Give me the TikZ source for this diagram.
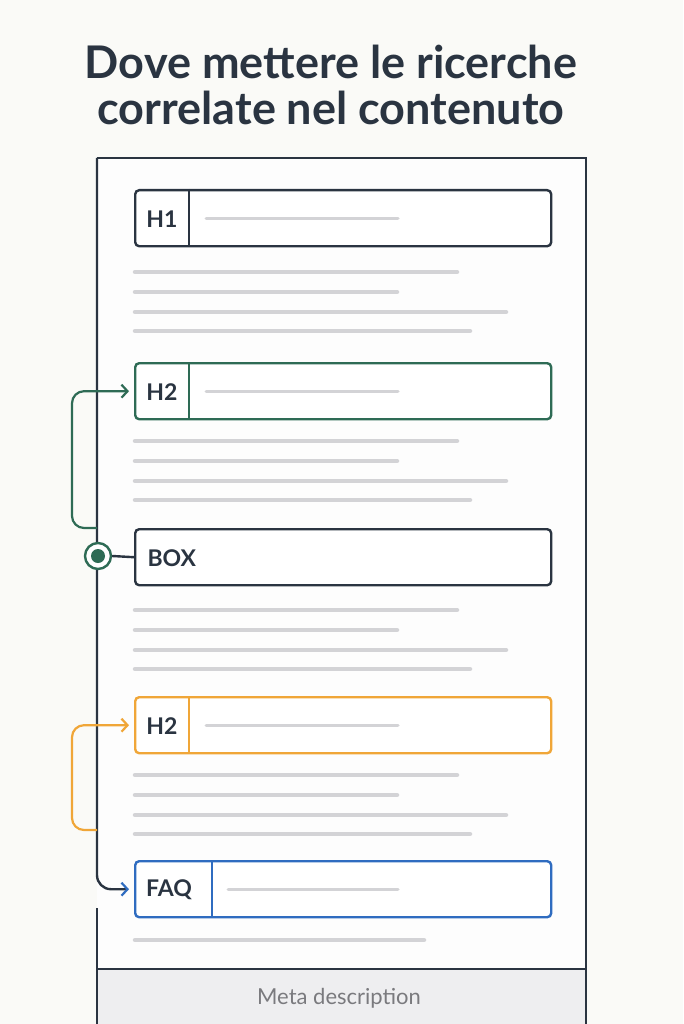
\documentclass[tikz,border=0pt]{standalone}
\usepackage{fontspec}
\setmainfont{Lato}
\usetikzlibrary{arrows.meta,calc}
\definecolor{navy}{HTML}{2A3441}
\definecolor{grn}{HTML}{2E6B55}
\definecolor{org}{HTML}{F0A638}
\definecolor{blu}{HTML}{2F6CC0}
\definecolor{lgray}{HTML}{D3D3D6}
\definecolor{bg}{HTML}{FAFAF7}
\definecolor{band}{HTML}{EEEEF0}
\definecolor{mgray}{HTML}{7A7A7E}
\begin{document}
\begin{tikzpicture}[x=1pt,y=-1pt,
 pageframe/.style={draw=navy,line width=2.4pt},
 hbox/.style={draw=#1,rounded corners=4pt,line width=2.4pt,minimum width=416pt,minimum height=56pt,anchor=north west,fill=white,inner sep=0pt},
 divline/.style={draw=#1,line width=2.4pt},
 txt/.style={draw=lgray,line width=4.5pt,line cap=round},
 stub/.style={draw=lgray,line width=3pt,line cap=round},
 lbl/.style={font=\fontsize{23}{23}\selectfont\bfseries,text=navy},
 conn/.style={draw=#1,line width=2.2pt,rounded corners=12pt},
 arrowtip/.style={-{Straight Barb[length=6pt,width=13pt,line width=2.2pt]}}
]
\fill[bg] (0,0) rectangle (683,1024);
\useasboundingbox (0,0) rectangle (683,1024);

% title
\node[font=\fontsize{45}{46}\selectfont\bfseries,text=navy,align=center] (title) at (331,85) {Dove mettere le ricerche\\correlate nel contenuto};

% page
\coordinate (ptl) at (97,158);
\coordinate (ptr) at (586,158);
\coordinate (pbr) at (586,1024);
\coordinate (pbl) at (97,1024);
\coordinate (gapend) at (97,908);
\coordinate (bandl) at (97,969);
\coordinate (bandr) at (586,969);
\fill[white!70!bg] (ptl) rectangle (pbr);
\fill[band] (bandl) rectangle (pbr);
\draw[pageframe] (bandl) -- (bandr);
\draw[pageframe] (pbr) -- (ptr) -- (ptl);
\draw[pageframe] (gapend) -- (pbl);
\node[font=\fontsize{22}{22}\selectfont,text=mgray] (meta) at (339,998) {Meta description};

% boxes
\node[hbox=navy] (h1) at (134,189) {};
\node[hbox=grn] (h2a) at (134,362) {};
\node[hbox=navy] (bx) at (134,528) {};
\node[hbox=org] (h2b) at (134,696) {};
\node[hbox=blu] (faq) at (134,860) {};

\draw[divline=navy] ($(h1.north west)+(55,0)$) -- ($(h1.south west)+(55,0)$);
\draw[divline=grn] ($(h2a.north west)+(55,0)$) -- ($(h2a.south west)+(55,0)$);
\draw[divline=org] ($(h2b.north west)+(55,0)$) -- ($(h2b.south west)+(55,0)$);
\draw[divline=blu] ($(faq.north west)+(78,0)$) -- ($(faq.south west)+(78,0)$);

\node[lbl] (h1t) at ($(h1.west)+(28,1)$) {H1};
\node[lbl] (h2at) at ($(h2a.west)+(28,1)$) {H2};
\node[lbl,anchor=west] (bxt) at ($(bx.west)+(10,1)$) {BOX};
\node[lbl] (h2bt) at ($(h2b.west)+(28,1)$) {H2};
\node[lbl] (faqt) at ($(faq.west)+(35,1)$) {FAQ};

\draw[stub] ($(h1.west)+(72,0)$) -- ($(h1.west)+(264,0)$);
\draw[stub] ($(h2a.west)+(72,0)$) -- ($(h2a.west)+(264,0)$);
\draw[stub] ($(h2b.west)+(72,0)$) -- ($(h2b.west)+(264,0)$);
\draw[stub] ($(faq.west)+(94,0)$) -- ($(faq.west)+(264,0)$);

% text lines
\foreach \y in {272,441,610,775}{
  \draw[txt] (135,\y) -- (457,\y);
  \draw[txt] (135,\y+20) -- (397,\y+20);
  \draw[txt] (135,\y+40) -- (506,\y+40);
  \draw[txt] (135,\y+59) -- (470,\y+59);
}
\draw[txt] (135,940) -- (424,940);

% left edge turning into the FAQ arrow
\draw[pageframe,rounded corners=14pt,-{Straight Barb[length=6pt,width=13pt,line width=2.2pt,color=blu]}] (ptl) |- ([xshift=-5pt]faq.west);

% connectors
\coordinate (gstart) at (97,528);
\draw[conn=grn,arrowtip] (gstart) -- ++(-25,0) |- ([xshift=-5pt]h2a.west);
\coordinate (ostart) at (97,830);
\draw[conn=org,arrowtip] (ostart) -- ++(-25,0) |- ([xshift=-5pt]h2b.west);

% marker
\node[circle,draw=grn,line width=2.4pt,fill=white,minimum size=26pt,inner sep=0pt] (dot) at (98,556) {};
\node[circle,fill=grn,minimum size=14pt,inner sep=0pt] (dotin) at (dot.center) {};
\draw[pageframe] (dot.east) -- (bx.west);
\end{tikzpicture}
\end{document}
